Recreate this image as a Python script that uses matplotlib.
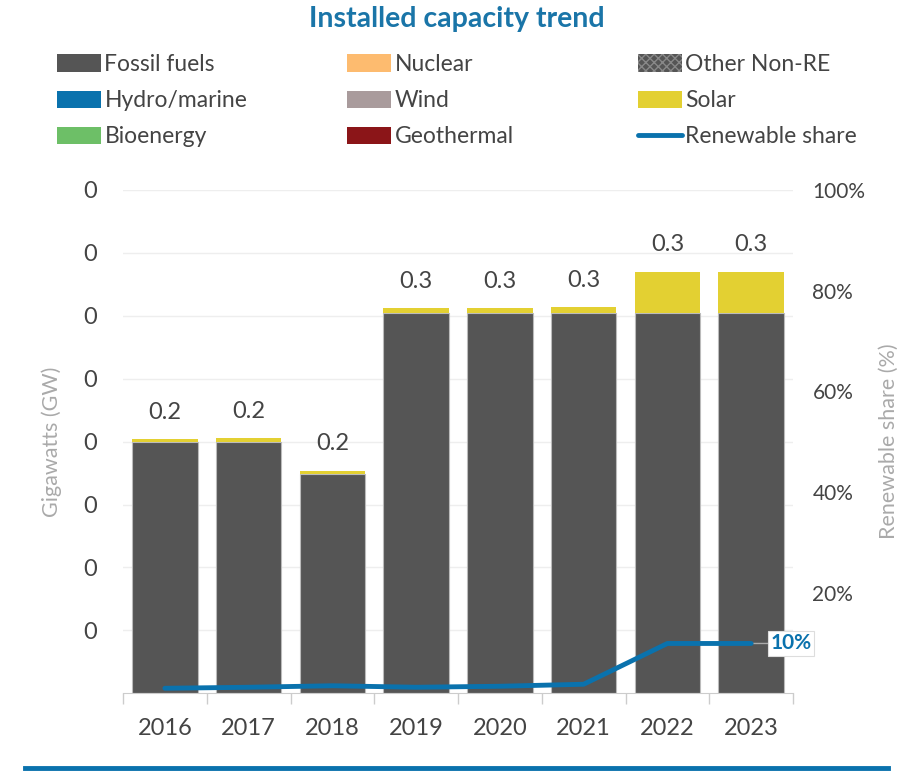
import matplotlib
matplotlib.use("Agg")
import matplotlib.pyplot as plt
from matplotlib.patches import Patch
from matplotlib.lines import Line2D
import numpy as np

plt.rcParams['font.family'] = ['Lato', 'DejaVu Sans']

years = ["2016", "2017", "2018", "2019", "2020", "2021", "2022", "2023"]
fossil = [0.200, 0.200, 0.174, 0.302, 0.302, 0.302, 0.302, 0.302]
nuclear = [0, 0, 0, 0, 0, 0, 0, 0]
other_nonre = [0, 0, 0, 0, 0, 0, 0, 0]
hydro = [0, 0, 0, 0, 0, 0, 0, 0]
wind = [0, 0, 0, 0, 0, 0, 0, 0]
solar = [0.002, 0.003, 0.003, 0.004, 0.004, 0.005, 0.033, 0.033]
bioenergy = [0, 0, 0, 0, 0, 0, 0, 0]
geothermal = [0, 0, 0, 0, 0, 0, 0, 0]
renew_share = [1.0, 1.2, 1.5, 1.2, 1.4, 1.8, 9.9, 9.9]
left_ticks = [0.05, 0.10, 0.15, 0.20, 0.25, 0.30, 0.35, 0.40]
right_ticks = [0.2, 0.4, 0.6, 0.8, 1.0]

series = [
    ("Fossil fuels", fossil, "#555555", None),
    ("Nuclear", nuclear, "#fdbb6f", None),
    ("Other Non-RE", other_nonre, "#555555", "xxxx"),
    ("Hydro/marine", hydro, "#0a72ad", None),
    ("Wind", wind, "#a99b9c", None),
    ("Solar", solar, "#e3d032", None),
    ("Bioenergy", bioenergy, "#6dbf67", None),
    ("Geothermal", geothermal, "#8b1518", None),
]
line_color = "#0a72ad"
tick_color = "#444444"
label_color = "#aaaaaa"
fs = 17

W, H = 914, 773
fig = plt.figure(figsize=(W / 100, H / 100), dpi=100)
ax = fig.add_axes([123 / W, 1 - 693.3 / H, 670 / W, (693.3 - 190) / H])

x = np.arange(len(years))
bottom = np.zeros(len(years))
for name, vals, col, hatch in series:
    v = np.array(vals, dtype=float)
    ax.bar(x, v, bottom=bottom, width=0.78, color=col, edgecolor="#bbbbbb" if name == "Fossil fuels" else col,
           linewidth=0.8 if name == "Fossil fuels" else 0, hatch=hatch, zorder=2)
    bottom += v

for xi, tot in zip(x, bottom):
    ax.text(xi, tot + 0.013, f"{tot:.1f}", ha="center", va="bottom", fontsize=fs, color=tick_color)

ax.set_xlim(-0.5, len(years) - 0.5)
ax.set_ylim(0, 0.40)
ax.set_yticks(left_ticks)
ax.set_yticklabels([f"{t:.0f}" for t in left_ticks])
ax.yaxis.grid(True, color="#eeeeee", linewidth=1, zorder=0)
ax.set_axisbelow(True)
ax.tick_params(axis="y", length=0, pad=19, labelsize=fs, labelcolor=tick_color)
ax.set_xticks(x)
ax.set_xticklabels(years)
ax.set_xticks(np.arange(-0.5, len(years), 1.0), minor=True)
ax.tick_params(axis="x", which="major", length=0, pad=18, labelsize=fs, labelcolor=tick_color)
ax.tick_params(axis="x", which="minor", length=8, color="#cccccc", width=1)
for s in ["top", "left", "right"]:
    ax.spines[s].set_visible(False)
ax.spines["bottom"].set_color("#cccccc")
ax.set_ylabel("Gigawatts (GW)", color=label_color, fontsize=15.5, labelpad=15)

ax2 = ax.twinx()
ax2.set_ylim(0, 1.0)
ax2.set_yticks(right_ticks)
ax2.set_yticklabels([f"{int(round(t * 100))}%" for t in right_ticks])
ax2.tick_params(axis="y", length=0, pad=14, labelsize=15, labelcolor=tick_color)
for s in ["top", "left", "right", "bottom"]:
    ax2.spines[s].set_visible(False)
share = np.array(renew_share) / 100
ax2.plot(x, share, color=line_color, linewidth=3.5, solid_capstyle="round", solid_joinstyle="round", zorder=5)
ax2.annotate(f"{renew_share[-1]:.0f}%", xy=(x[-1], share[-1]), xytext=(x[-1] + 0.48, share[-1]),
             ha="center", va="center", fontsize=15, color=line_color, fontweight="bold",
             bbox=dict(boxstyle="square,pad=0.12", fc="white", ec="#dddddd", lw=0.8),
             arrowprops=dict(arrowstyle="-", color="#aaaaaa", lw=1, shrinkA=0, shrinkB=0))
ax2.set_ylabel("Renewable share (%)", color=label_color, fontsize=15.5, labelpad=10)

fig.text(457 / W, 1 - 19 / H, "Installed capacity trend", ha="center", va="center",
         fontsize=20.5, fontweight="bold", color="#1a75a8")

# legend, three columns
handles = []
for name, vals, col, hatch in series:
    handles.append(Patch(facecolor=col, edgecolor="#888888" if hatch else col, hatch=hatch, linewidth=0, label=name))
handles.append(Line2D([0], [0], color=line_color, lw=3.5, solid_capstyle="round", label="Renewable share"))
order = [[0, 3, 6], [1, 4, 7], [2, 5, 8]]
col_x = [57, 347, 638]
for cx, idx in zip(col_x, order):
    leg = fig.legend([handles[i] for i in idx], [handles[i].get_label() for i in idx],
                     loc="upper left", bbox_to_anchor=(cx / W, 1 - 54 / H), frameon=False,
                     fontsize=16.5, handlelength=1.9, handleheight=0.78, handletextpad=0.17,
                     labelspacing=0.66, borderpad=0, borderaxespad=0)
    for t in leg.get_texts():
        t.set_color(tick_color)

fig.add_artist(Line2D([25 / W, 888 / W], [1 - 768 / H, 1 - 768 / H], color="#0a72ad", lw=3.5,
                      transform=fig.transFigure))

fig.savefig("out.png", dpi=100, facecolor="white")
